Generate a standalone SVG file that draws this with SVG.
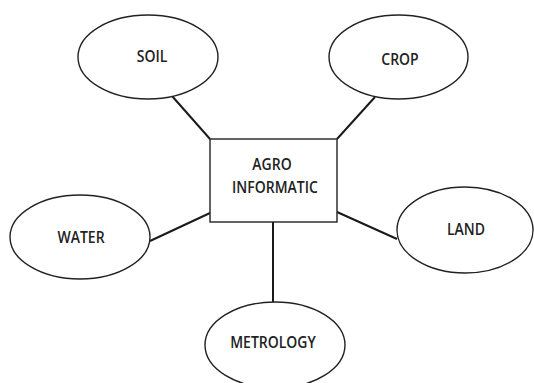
<svg xmlns="http://www.w3.org/2000/svg" width="534" height="383" viewBox="0 0 534 383">
<style>
.n{fill:#fff;stroke:#222;stroke-width:1.4}
.c{stroke:#1a1a1a;stroke-width:2;fill:none}
.t{font-family:"Open Sans","Liberation Sans",sans-serif;font-size:14px;font-weight:600;fill:#222;text-anchor:middle;dominant-baseline:central}
</style>
<rect width="534" height="383" fill="#fff"/>
<g id="connectors">
<line class="c" x1="172" y1="96" x2="210" y2="139"/>
<line class="c" x1="375" y1="97" x2="337" y2="139"/>
<line class="c" x1="150" y1="241" x2="210" y2="213"/>
<line class="c" x1="337" y1="212" x2="397" y2="239"/>
<line class="c" x1="273" y1="222" x2="273" y2="302"/>
</g>
<g id="soil"><ellipse class="n" cx="148" cy="57" rx="70" ry="42"/><text class="t" transform="translate(152,56) scale(1,1.15)">SOIL</text></g>
<g id="crop"><ellipse class="n" cx="398.5" cy="57" rx="69.5" ry="42"/><text class="t" transform="translate(400,59) scale(1,1.15)">CROP</text></g>
<g id="agro"><rect class="n" x="210" y="139" width="127" height="83"/><text class="t" transform="translate(272,164) scale(1,1.1)">AGRO</text><text class="t" transform="translate(275,187) scale(1,1.1)">INFORMATIC</text></g>
<g id="water"><ellipse class="n" cx="80" cy="237" rx="70" ry="42"/><text class="t" transform="translate(81,237) scale(1,1.15)">WATER</text></g>
<g id="land"><ellipse class="n" cx="465" cy="230" rx="68" ry="43"/><text class="t" transform="translate(466,229) scale(1,1.15)">LAND</text></g>
<g id="metrology"><ellipse class="n" cx="275" cy="345" rx="70" ry="43"/><text class="t" transform="translate(273,342) scale(1,1.15)">METROLOGY</text></g>
</svg>
